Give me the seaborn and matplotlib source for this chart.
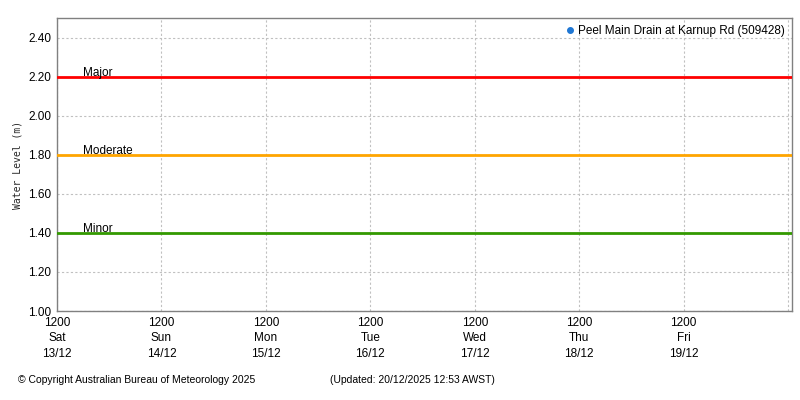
import pandas as pd
import numpy as np
import seaborn as sns
import matplotlib.pyplot as plt
import matplotlib.dates as mdates

# données du graphique
station = "Peel Main Drain at Karnup Rd (509428)"
station_times = []
station_levels = []
seuil_noms = ["Major", "Moderate", "Minor"]
seuil_niveaux = [2.20, 1.80, 1.40]
seuil_couleurs = ["#ff0000", "#ffa500", "#339900"]
debut = "2025-12-13 12:00"
fin = "2025-12-20 12:53"
copyright_txt = "\u00a9 Copyright Australian Bureau of Meteorology 2025"
maj_txt = "(Updated: 20/12/2025 12:53 AWST)"

sns.set_style("white")
plt.rcParams['font.family'] = ['Liberation Sans', 'DejaVu Sans']
plt.rcParams['text.color'] = 'black'
plt.rcParams['xtick.labelcolor'] = 'black'
plt.rcParams['ytick.labelcolor'] = 'black'

fig = plt.figure(figsize=(8, 4), dpi=100)
ax = fig.add_axes([57/800, 1-311/400, (792-57)/800, (311-18)/400])

t0 = pd.Timestamp(debut)
t1 = pd.Timestamp(fin)

# série (vide) de la station
df = pd.DataFrame({"time": pd.to_datetime(station_times), "level": station_levels})
ax.plot(df["time"], df["level"], "o", color="#1f77d4", markersize=4, label=station)

# seuils
for nom, niv, coul in zip(seuil_noms, seuil_niveaux, seuil_couleurs):
    ax.axhline(niv, color=coul, lw=2, zorder=3)
    ax.text(t0 + pd.Timedelta(hours=6), niv - 0.012, nom, fontsize=8.5, va="bottom", ha="left", zorder=4)

ax.set_xlim(t0, t1)
ax.set_ylim(1.0, 2.5)
ax.set_yticks(np.arange(1.0, 2.41, 0.2))
ax.yaxis.set_major_formatter(plt.FuncFormatter(lambda v, p: f"{v:.2f}"))

ax.xaxis.set_major_locator(mdates.HourLocator(byhour=[12]))
ax.xaxis.set_minor_locator(mdates.HourLocator(byhour=[0, 6, 18]))
labels = lambda v, p: "" if mdates.num2date(v).day == 20 else mdates.num2date(v).strftime("%H%M\n%a\n%d/%m")
ax.xaxis.set_major_formatter(plt.FuncFormatter(labels))

ax.grid(True, which="major", color="#c0c0c0", ls=(0, (2, 2)), lw=0.8)
ax.tick_params(axis="both", which="both", direction="out", labelsize=8.5, color="#808080", length=3, width=0.8, pad=1)
for lab in ax.get_xticklabels():
    lab.set_linespacing(1.4)
for s in ax.spines.values():
    s.set_color("#808080")
    s.set_linewidth(1)

ax.set_ylabel("Water Level (m)", fontsize=7, family="DejaVu Sans Mono", labelpad=4)

leg = ax.legend(loc="upper right", frameon=False, fontsize=8.5, handletextpad=0.2, borderaxespad=0.2, handlelength=1, markerscale=1)

fig.text(18/800, 1-380/400, copyright_txt, fontsize=7.5, va="center")
fig.text(330/800, 1-380/400, maj_txt, fontsize=7.5, va="center")

plt.savefig("out.png", dpi=100)
